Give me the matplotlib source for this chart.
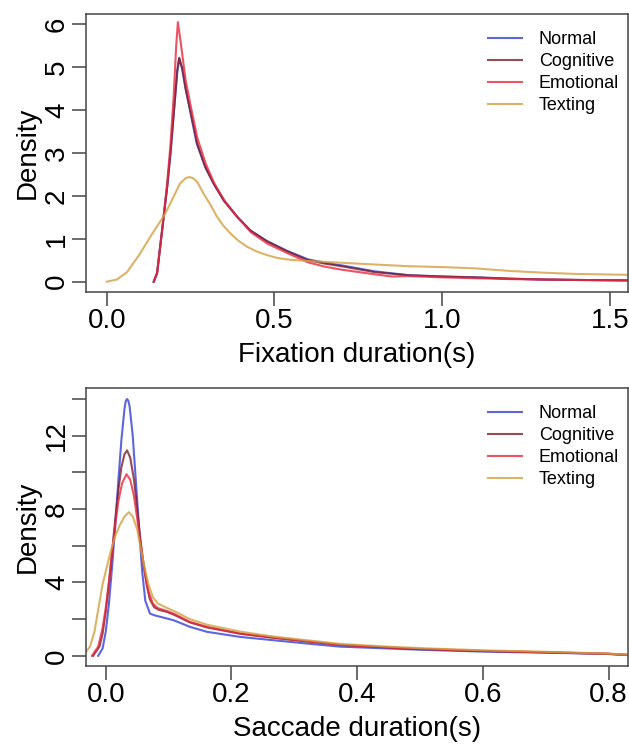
import matplotlib
matplotlib.use('Agg')
import matplotlib.pyplot as plt

plt.rcParams['font.family'] = ['Liberation Sans', 'DejaVu Sans']

GROUPS = ['Normal', 'Cognitive', 'Emotional', 'Texting']
COLORS = ['#3340d8', '#7a1f2b', '#e8283c', '#d4a040']

# Fixation duration densities (s, density)
fix_normal_x = [0.14, 0.15, 0.165, 0.18, 0.19, 0.2, 0.21, 0.2156, 0.225, 0.235, 0.248, 0.268,
                0.293, 0.318, 0.348, 0.388, 0.427, 0.477, 0.537, 0.6, 0.65, 0.7, 0.8, 0.9,
                1.0, 1.1, 1.2, 1.3, 1.4, 1.55]
fix_normal_y = [0.0, 0.2, 1.2, 2.2, 3.0, 3.95, 4.9, 5.2, 4.95, 4.5, 4.0, 3.23,
                2.68, 2.29, 1.9, 1.52, 1.2, 0.95, 0.72, 0.52, 0.44, 0.38, 0.24, 0.15,
                0.12, 0.10, 0.07, 0.05, 0.04, 0.03]
fix_cognitive_x = [0.14, 0.15, 0.165, 0.18, 0.19, 0.2, 0.21, 0.216, 0.225, 0.235, 0.25, 0.27,
                   0.295, 0.32, 0.35, 0.39, 0.43, 0.48, 0.54, 0.6, 0.65, 0.7, 0.8, 0.9,
                   1.0, 1.1, 1.2, 1.3, 1.4, 1.55]
fix_cognitive_y = [0.0, 0.2, 1.2, 2.2, 3.0, 3.95, 4.9, 5.22, 4.97, 4.5, 3.95, 3.2,
                   2.65, 2.27, 1.88, 1.5, 1.18, 0.93, 0.7, 0.5, 0.42, 0.36, 0.22, 0.15,
                   0.12, 0.10, 0.07, 0.05, 0.04, 0.03]
fix_emotional_x = [0.14, 0.15, 0.165, 0.18, 0.19, 0.2, 0.207, 0.212, 0.22, 0.235, 0.25, 0.27,
                   0.295, 0.32, 0.35, 0.39, 0.43, 0.48, 0.54, 0.6, 0.65, 0.7, 0.8, 0.85,
                   0.9, 1.0, 1.1, 1.2, 1.3, 1.4, 1.55]
fix_emotional_y = [0.0, 0.2, 1.2, 2.3, 3.2, 4.4, 5.5, 6.05, 5.6, 4.7, 4.1, 3.35,
                   2.75, 2.3, 1.9, 1.5, 1.15, 0.88, 0.66, 0.45, 0.35, 0.28, 0.17, 0.12,
                   0.13, 0.10, 0.08, 0.06, 0.05, 0.04, 0.03]
fix_texting_x = [0.0, 0.03, 0.06, 0.099, 0.13, 0.174, 0.2186, 0.235, 0.246, 0.258, 0.27, 0.288,
                 0.31, 0.328, 0.348, 0.368, 0.39, 0.417, 0.445, 0.477, 0.51, 0.546, 0.606, 0.7,
                 0.8, 0.9, 1.0, 1.1, 1.2, 1.3, 1.4, 1.55]
fix_texting_y = [0.0, 0.05, 0.22, 0.65, 1.05, 1.58, 2.29, 2.41, 2.44, 2.41, 2.32, 2.06,
                 1.78, 1.52, 1.3, 1.13, 0.97, 0.82, 0.71, 0.62, 0.55, 0.51, 0.48, 0.44,
                 0.40, 0.36, 0.34, 0.31, 0.25, 0.21, 0.18, 0.16]

# Saccade duration densities (s, density)
sac_normal_x = [-0.012, -0.005, 0.0, 0.005, 0.01, 0.015, 0.02, 0.025, 0.03, 0.032, 0.034, 0.036,
                0.038, 0.043, 0.048, 0.053, 0.058, 0.063, 0.0705, 0.0785, 0.09, 0.108, 0.134,
                0.161, 0.214, 0.267, 0.32, 0.373, 0.45, 0.5, 0.6, 0.7, 0.8, 0.83]
sac_normal_y = [0.0, 0.4, 1.3, 2.8, 4.8, 7.0, 9.5, 11.8, 13.5, 13.9, 14.0, 13.9,
                13.6, 12.0, 9.5, 7.0, 4.6, 3.0, 2.3, 2.2, 2.1, 1.94, 1.58,
                1.31, 1.03, 0.85, 0.67, 0.5, 0.4, 0.33, 0.23, 0.17, 0.1, 0.04]
sac_cognitive_x = [-0.02, -0.01, -0.005, 0.0, 0.005, 0.01, 0.015, 0.02, 0.025, 0.03, 0.034, 0.039,
                   0.045, 0.05, 0.055, 0.06, 0.065, 0.07, 0.077, 0.085, 0.097, 0.108, 0.134,
                   0.161, 0.214, 0.267, 0.32, 0.373, 0.45, 0.5, 0.6, 0.7, 0.8, 0.83]
sac_cognitive_y = [0.0, 0.5, 1.2, 2.4, 3.9, 5.6, 7.4, 9.0, 10.3, 11.0, 11.2, 10.8,
                   9.6, 8.0, 6.4, 5.0, 3.9, 3.1, 2.65, 2.5, 2.4, 2.25, 1.82,
                   1.55, 1.2, 0.98, 0.78, 0.6, 0.45, 0.37, 0.26, 0.19, 0.11, 0.05]
sac_emotional_x = [-0.022, -0.012, -0.005, 0.0, 0.005, 0.01, 0.015, 0.02, 0.026, 0.033, 0.039, 0.045,
                   0.05, 0.056, 0.062, 0.068, 0.075, 0.083, 0.097, 0.108, 0.134, 0.161, 0.214,
                   0.267, 0.32, 0.373, 0.45, 0.5, 0.6, 0.7, 0.8, 0.83]
sac_emotional_y = [0.0, 0.5, 1.5, 2.6, 4.0, 5.6, 7.1, 8.4, 9.4, 9.9, 9.6, 8.7,
                   7.5, 6.0, 4.6, 3.5, 2.85, 2.6, 2.45, 2.3, 1.85, 1.58, 1.22,
                   1.0, 0.8, 0.6, 0.46, 0.38, 0.27, 0.2, 0.11, 0.05]
sac_texting_x = [-0.035, -0.025, -0.018, -0.01, -0.005, 0.0, 0.008, 0.015, 0.022, 0.03, 0.037, 0.043,
                 0.05, 0.056, 0.062, 0.068, 0.075, 0.083, 0.095, 0.108, 0.134, 0.161, 0.214,
                 0.267, 0.32, 0.373, 0.45, 0.5, 0.6, 0.7, 0.8, 0.83]
sac_texting_y = [0.05, 0.5, 1.3, 2.9, 3.9, 4.6, 5.7, 6.5, 7.1, 7.6, 7.83, 7.6,
                 6.9, 5.8, 4.8, 3.9, 3.2, 2.85, 2.65, 2.45, 2.0, 1.7, 1.32,
                 1.05, 0.85, 0.65, 0.5, 0.42, 0.3, 0.22, 0.12, 0.06]

fix_curves = [(fix_normal_x, fix_normal_y), (fix_cognitive_x, fix_cognitive_y),
              (fix_emotional_x, fix_emotional_y), (fix_texting_x, fix_texting_y)]
sac_curves = [(sac_normal_x, sac_normal_y), (sac_cognitive_x, sac_cognitive_y),
              (sac_emotional_x, sac_emotional_y), (sac_texting_x, sac_texting_y)]

fix_xticks = [0.0, 0.5, 1.0, 1.5]
fix_yticks = [0, 1, 2, 3, 4, 5, 6]
sac_xticks = [0.0, 0.2, 0.4, 0.6, 0.8]
sac_yticks = [0, 2, 4, 6, 8, 10, 12, 14]
sac_ylabels = ['0', '', '4', '', '8', '', '12', '']

AXCOL = '#444444'


def draw_panel(ax, curves, xlabel, xticks, yticks, ylabels, xlim, ylim):
    for (xs, ys), name, col in zip(curves, GROUPS, COLORS):
        ax.plot(xs, ys, color=col, lw=1.5, alpha=0.8, label=name)
    ax.set_xlim(*xlim)
    ax.set_ylim(*ylim)
    ax.set_xticks(xticks)
    ax.set_xticklabels(['%.1f' % t for t in xticks])
    ax.set_yticks(yticks)
    ax.set_yticklabels(ylabels, rotation=90, va='center')
    ax.tick_params(colors=AXCOL, labelcolor='black', length=10, width=1.1,
                   labelsize=20, pad=1.5)
    for sp in ax.spines.values():
        sp.set_color(AXCOL)
        sp.set_linewidth(1.1)
    ax.set_xlabel(xlabel, fontsize=20, labelpad=6)
    ax.set_ylabel('Density', fontsize=20, labelpad=2)
    ax.legend(loc='upper left', bbox_to_anchor=(0.742, 0.939), frameon=False,
              fontsize=13, handlelength=1.9, handletextpad=0.9, labelspacing=0.28,
              borderpad=0, borderaxespad=0)


fig = plt.figure(figsize=(6.29, 7.45), dpi=100)
ax1 = fig.add_axes([0.1367, 0.6081, 0.8617, 0.3732])
ax2 = fig.add_axes([0.1367, 0.1064, 0.8617, 0.3723])

draw_panel(ax1, fix_curves, 'Fixation duration(s)', fix_xticks, fix_yticks,
           [str(t) for t in fix_yticks], (-0.062, 1.554), (-0.24, 6.24))
draw_panel(ax2, sac_curves, 'Saccade duration(s)', sac_xticks, sac_yticks,
           sac_ylabels, (-0.0314, 0.831), (-0.54, 14.58))

fig.savefig('out.png', dpi=100)
